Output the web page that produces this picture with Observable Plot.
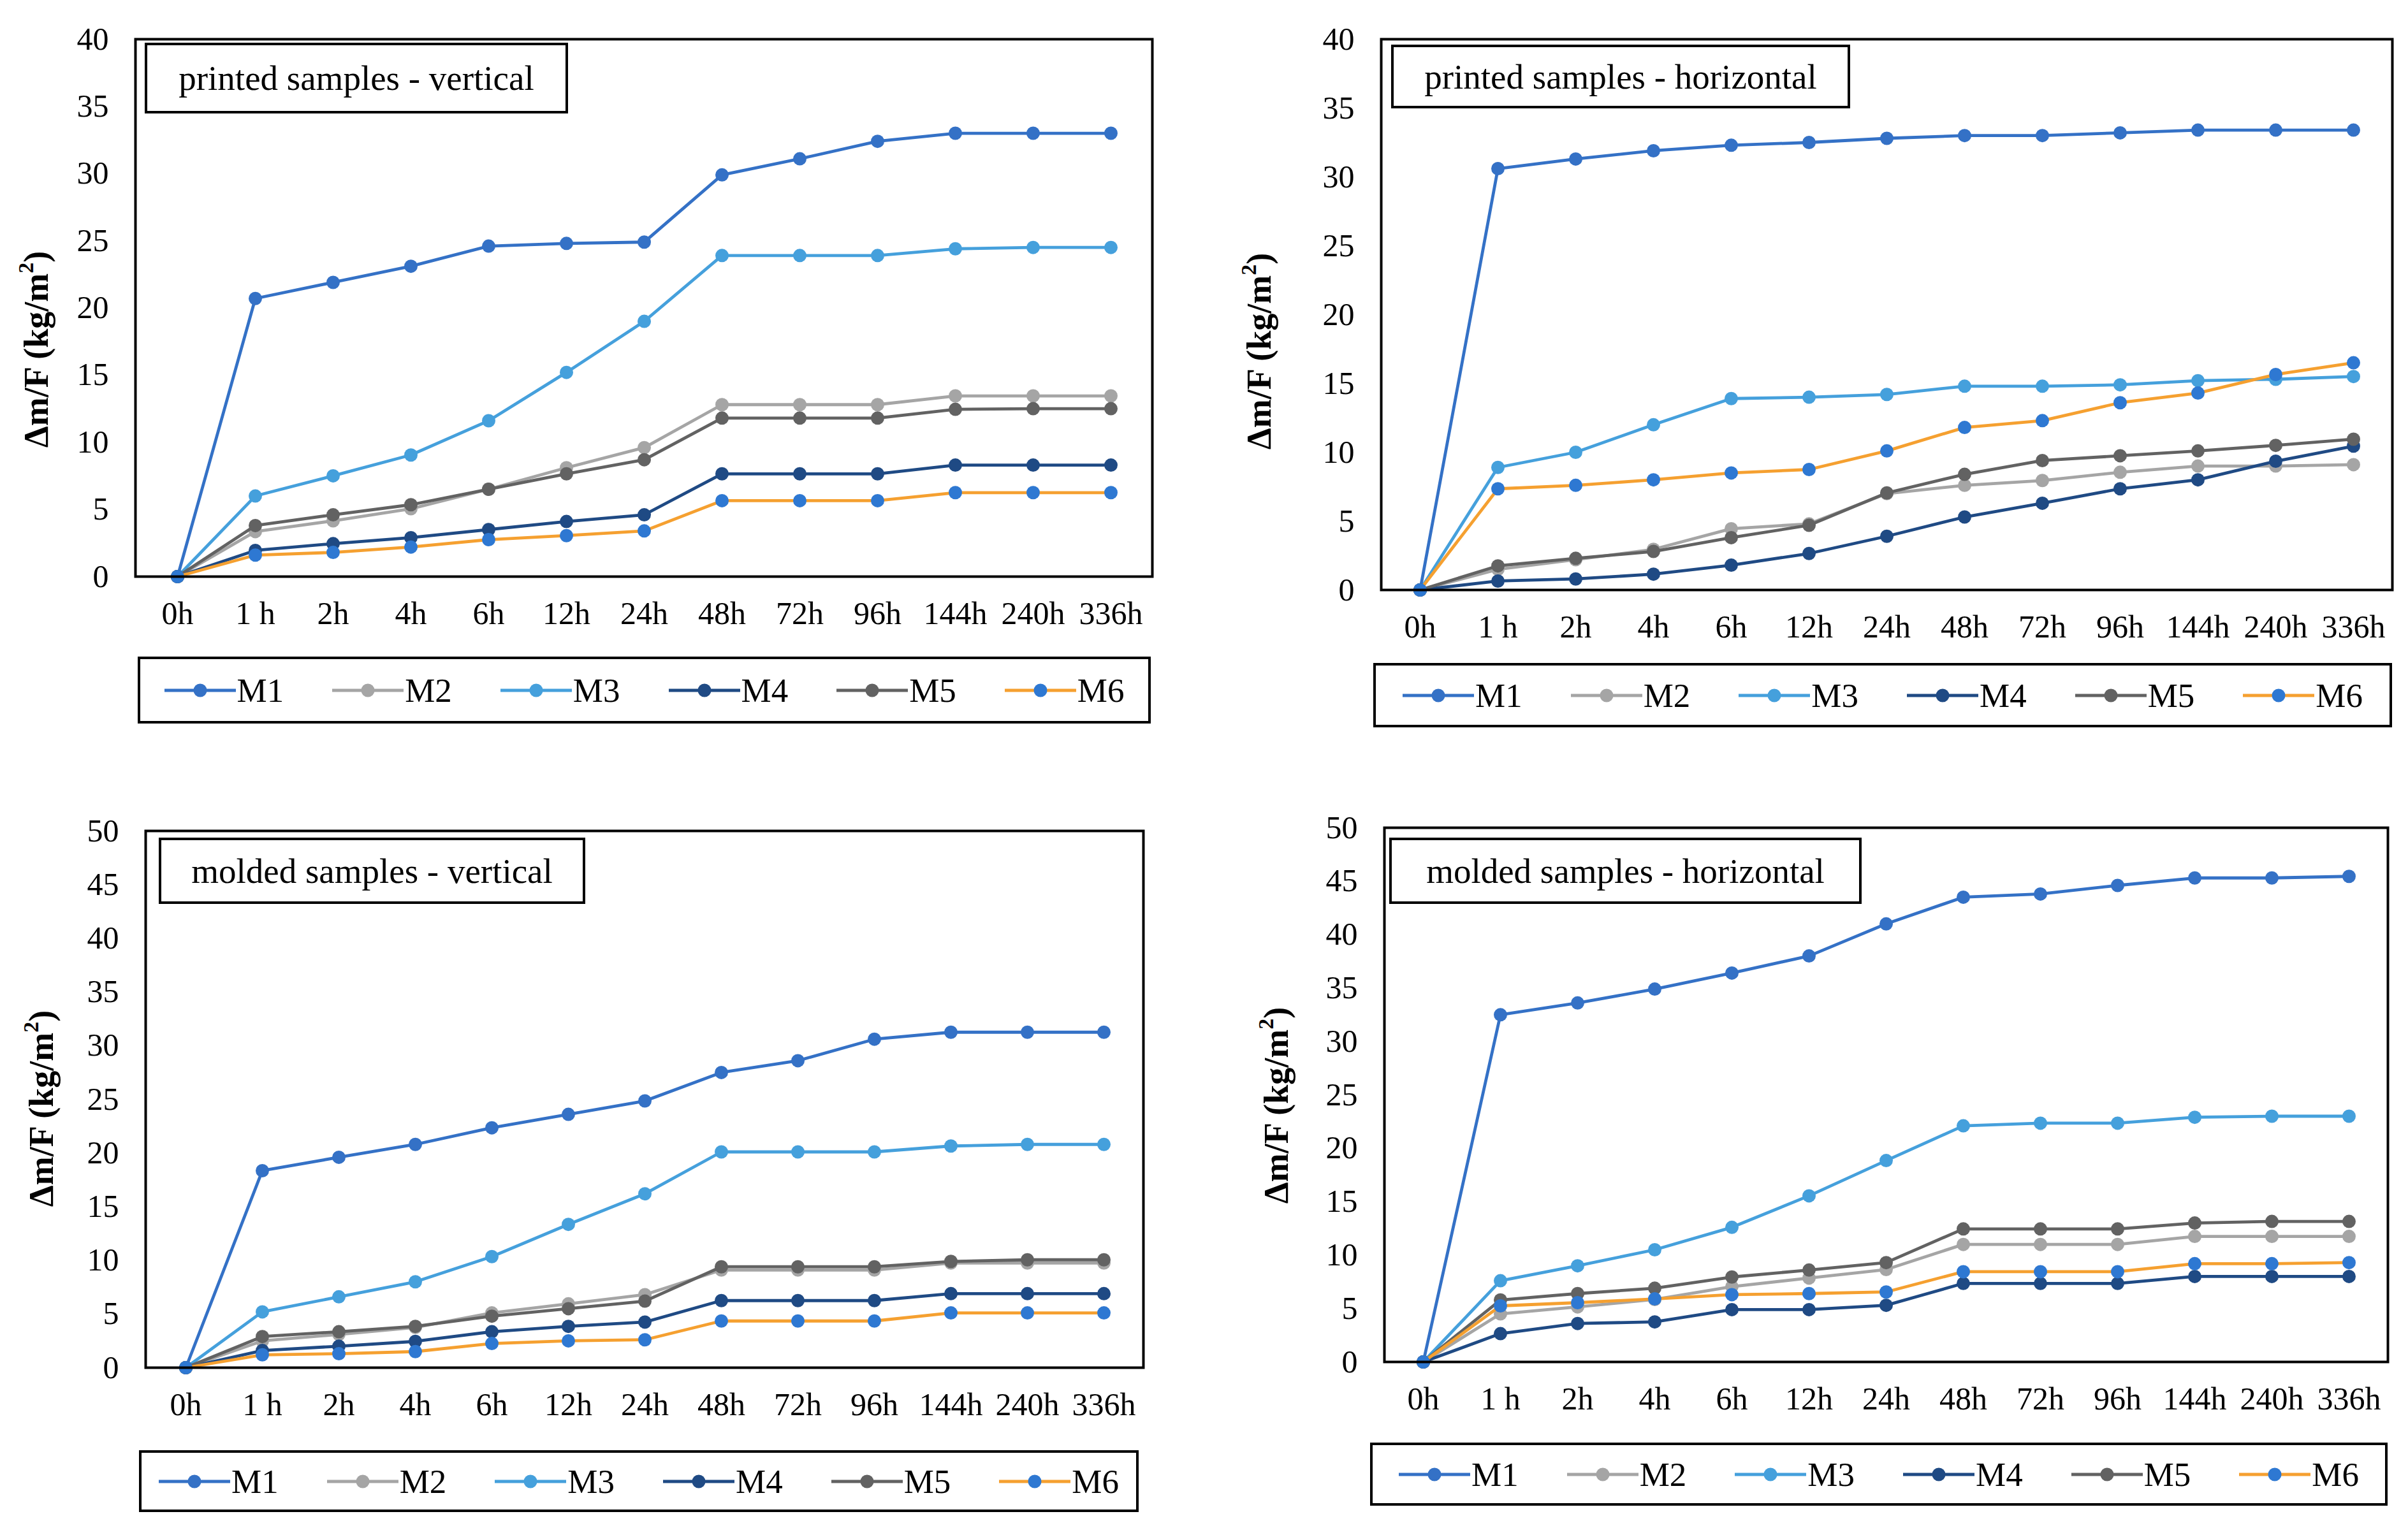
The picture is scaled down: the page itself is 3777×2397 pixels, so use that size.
<!DOCTYPE html>
<html>
<head>
<meta charset="utf-8">
<script src="https://cdn.jsdelivr.net/npm/d3@7"></script>
<script src="https://cdn.jsdelivr.net/npm/@observablehq/plot@0.6"></script>
<style>
  html, body { margin: 0; padding: 0; background: #fff; }
  #root { position: relative; width: 3777px; height: 2397px; background: #fff; overflow: hidden; font-family: "Liberation Serif", "Times New Roman", serif; }
  .titlebox { position: absolute; box-sizing: border-box; border: 4px solid #000; background: #fff; display: flex; align-items: center; justify-content: center; font-size: 55px; color: #000; white-space: nowrap; }
  .legendbox { position: absolute; box-sizing: border-box; border: 4px solid #000; background: #fff; display: flex; align-items: center; justify-content: center; gap: 76px; font-size: 53px; color: #000; }
  .item { display: flex; align-items: center; gap: 2px; }
  .ylabel { position: absolute; transform: translate(-50%, -50%) rotate(-90deg); font-weight: bold; font-size: 54px; white-space: nowrap; color: #000; }
  .ylabel sup { font-size: 34px; position: relative; top: -4px; vertical-align: super; line-height: 0; }
</style>
</head>
<body>
<div id="root"></div>
<script>
// ---------- data ----------
const times = ["0h", "1 h", "2h", "4h", "6h", "12h", "24h", "48h", "72h", "96h", "144h", "240h", "336h"];
const seriesNames = ["M1", "M2", "M3", "M4", "M5", "M6"];
const lineColors = ["#3471C6", "#A5A5A5", "#45A0DC", "#1F4A84", "#626262", "#F5A030"];
const markerColors = ["#3471C6", "#A5A5A5", "#45A0DC", "#1F4A84", "#626262", "#2E78D2"];
const yTicks40 = [0, 5, 10, 15, 20, 25, 30, 35, 40];
const yTicks50 = [0, 5, 10, 15, 20, 25, 30, 35, 40, 45, 50];
const panelTitles = ["printed samples - vertical", "printed samples - horizontal", "molded samples - vertical", "molded samples - horizontal"];

// printed samples - vertical
const pvM1 = [0, 20.7, 21.9, 23.1, 24.6, 24.8, 24.9, 29.9, 31.1, 32.4, 33.0, 33.0, 33.0];
const pvM2 = [0, 3.35, 4.15, 5.05, 6.5, 8.1, 9.6, 12.8, 12.8, 12.8, 13.45, 13.45, 13.45];
const pvM3 = [0, 6.0, 7.5, 9.05, 11.6, 15.2, 19.0, 23.9, 23.9, 23.9, 24.4, 24.5, 24.5];
const pvM4 = [0, 1.95, 2.45, 2.9, 3.5, 4.1, 4.6, 7.65, 7.65, 7.65, 8.3, 8.3, 8.3];
const pvM5 = [0, 3.8, 4.6, 5.35, 6.5, 7.65, 8.7, 11.8, 11.8, 11.8, 12.45, 12.5, 12.5];
const pvM6 = [0, 1.6, 1.8, 2.2, 2.75, 3.05, 3.4, 5.65, 5.65, 5.65, 6.25, 6.25, 6.25];

// printed samples - horizontal
const phM1 = [0, 30.6, 31.3, 31.9, 32.3, 32.5, 32.8, 33.0, 33.0, 33.2, 33.4, 33.4, 33.4];
const phM2 = [0, 1.5, 2.2, 2.95, 4.45, 4.8, 7.0, 7.6, 7.95, 8.55, 9.0, 9.0, 9.1];
const phM3 = [0, 8.9, 10.0, 12.0, 13.9, 14.0, 14.2, 14.8, 14.8, 14.9, 15.2, 15.3, 15.5];
const phM4 = [0, 0.65, 0.8, 1.15, 1.8, 2.65, 3.9, 5.3, 6.3, 7.35, 8.0, 9.35, 10.45];
const phM5 = [0, 1.75, 2.3, 2.8, 3.8, 4.7, 7.05, 8.4, 9.4, 9.75, 10.1, 10.5, 10.95];
const phM6 = [0, 7.35, 7.6, 8.0, 8.5, 8.75, 10.1, 11.8, 12.3, 13.6, 14.3, 15.65, 16.5];

// molded samples - vertical
const mvM1 = [0, 18.35, 19.6, 20.8, 22.35, 23.6, 24.85, 27.5, 28.6, 30.6, 31.25, 31.25, 31.25];
const mvM2 = [0, 2.5, 3.1, 3.75, 5.1, 5.95, 6.8, 9.1, 9.1, 9.1, 9.75, 9.75, 9.75];
const mvM3 = [0, 5.2, 6.6, 8.0, 10.35, 13.35, 16.2, 20.1, 20.1, 20.1, 20.65, 20.8, 20.8];
const mvM4 = [0, 1.6, 2.0, 2.45, 3.35, 3.85, 4.25, 6.25, 6.25, 6.25, 6.9, 6.9, 6.9];
const mvM5 = [0, 2.9, 3.35, 3.85, 4.8, 5.5, 6.2, 9.4, 9.4, 9.4, 9.9, 10.05, 10.05];
const mvM6 = [0, 1.2, 1.3, 1.5, 2.25, 2.5, 2.6, 4.35, 4.35, 4.35, 5.1, 5.1, 5.1];

// molded samples - horizontal
const mhM1 = [0, 32.5, 33.6, 34.9, 36.4, 38.0, 41.0, 43.5, 43.8, 44.6, 45.3, 45.3, 45.45];
const mhM2 = [0, 4.5, 5.15, 5.85, 7.05, 7.85, 8.65, 11.0, 11.0, 11.0, 11.75, 11.75, 11.75];
const mhM3 = [0, 7.6, 9.0, 10.5, 12.6, 15.55, 18.85, 22.1, 22.35, 22.35, 22.9, 23.0, 23.0];
const mhM4 = [0, 2.65, 3.6, 3.75, 4.9, 4.9, 5.3, 7.35, 7.35, 7.35, 8.0, 8.0, 8.0];
const mhM5 = [0, 5.8, 6.4, 6.9, 7.95, 8.6, 9.3, 12.45, 12.45, 12.45, 13.0, 13.15, 13.15];
const mhM6 = [0, 5.25, 5.55, 5.9, 6.3, 6.4, 6.55, 8.45, 8.45, 8.45, 9.2, 9.2, 9.3];

// ---------- layout (pixel geometry only) ----------
const panels = [
  { title: panelTitles[0], series: [pvM1, pvM2, pvM3, pvM4, pvM5, pvM6], ticks: yTicks40,
    L: 212, R: 1807, T: 61, B: 904, tb: [227, 67, 891, 178], lg: [216, 1030, 1805, 1135], yl: [57, 548] },
  { title: panelTitles[1], series: [phM1, phM2, phM3, phM4, phM5, phM6], ticks: yTicks40,
    L: 2166, R: 3752, T: 61, B: 925, tb: [2182, 70, 2902, 170], lg: [2154, 1040, 3752, 1141], yl: [1975, 551] },
  { title: panelTitles[2], series: [mvM1, mvM2, mvM3, mvM4, mvM5, mvM6], ticks: yTicks50,
    L: 228, R: 1793, T: 1303, B: 2145, tb: [249, 1314, 918, 1418], lg: [218, 2275, 1786, 2372], yl: [65, 1739] },
  { title: panelTitles[3], series: [mhM1, mhM2, mhM3, mhM4, mhM5, mhM6], ticks: yTicks50,
    L: 2171, R: 3745, T: 1298, B: 2136, tb: [2179, 1314, 2920, 1418], lg: [2149, 2263, 3745, 2362], yl: [2002, 1734] }
];

const root = document.getElementById("root");
const ml = 150, mr = 40, mt = 40, mb = 110;

panels.forEach(p => {
  const marks = [];
  p.series.forEach((vals, si) => {
    const rows = times.map((t, i) => ({ t, v: vals[i] }));
    marks.push(Plot.line(rows, { x: "t", y: "v", stroke: lineColors[si], strokeWidth: 4.8 }));
    marks.push(Plot.dot(rows, { x: "t", y: "v", fill: markerColors[si], r: 10.5, stroke: "none" }));
  });
  const yMax = p.ticks[p.ticks.length - 1];
  const chart = Plot.plot({
    width: (p.R - p.L) + ml + mr,
    height: (p.B - p.T) + mt + mb,
    marginLeft: ml, marginRight: mr, marginTop: mt, marginBottom: mb,
    style: { fontFamily: "Liberation Serif, Times New Roman, serif", fontSize: "50px", background: "transparent", overflow: "visible", color: "#000" },
    x: { type: "point", domain: times, padding: 0.5 },
    y: { domain: [0, yMax] },
    marks: [
      Plot.axisX({ tickSize: 0, tickPadding: 39, label: null, fontSize: 50 }),
      Plot.axisY({ ticks: p.ticks, tickSize: 0, tickPadding: 42, label: null, fontSize: 50 }),
      ...marks,
      Plot.frame({ stroke: "#000", strokeWidth: 4 })
    ]
  });
  chart.style.position = "absolute";
  chart.style.left = (p.L - ml) + "px";
  chart.style.top = (p.T - mt) + "px";
  root.appendChild(chart);

  // title box
  const tb = document.createElement("div");
  tb.className = "titlebox";
  tb.style.left = p.tb[0] + "px";
  tb.style.top = p.tb[1] + "px";
  tb.style.width = (p.tb[2] - p.tb[0]) + "px";
  tb.style.height = (p.tb[3] - p.tb[1]) + "px";
  tb.textContent = p.title;
  root.appendChild(tb);

  // legend
  const lg = document.createElement("div");
  lg.className = "legendbox";
  lg.style.left = p.lg[0] + "px";
  lg.style.top = p.lg[1] + "px";
  lg.style.width = (p.lg[2] - p.lg[0]) + "px";
  lg.style.height = (p.lg[3] - p.lg[1]) + "px";
  seriesNames.forEach((name, si) => {
    const item = document.createElement("div");
    item.className = "item";
    item.innerHTML =
      `<svg width="112" height="26" style="display:block"><line x1="0" y1="13" x2="112" y2="13" stroke="${lineColors[si]}" stroke-width="4.8"/><circle cx="56" cy="13" r="10.5" fill="${markerColors[si]}"/></svg><span>${name}</span>`;
    lg.appendChild(item);
  });
  root.appendChild(lg);

  // y-axis title
  const yl = document.createElement("div");
  yl.className = "ylabel";
  yl.style.left = p.yl[0] + "px";
  yl.style.top = p.yl[1] + "px";
  yl.innerHTML = "Δm/F (kg/m<sup>2</sup>)";
  root.appendChild(yl);
});
</script>
</body>
</html>
